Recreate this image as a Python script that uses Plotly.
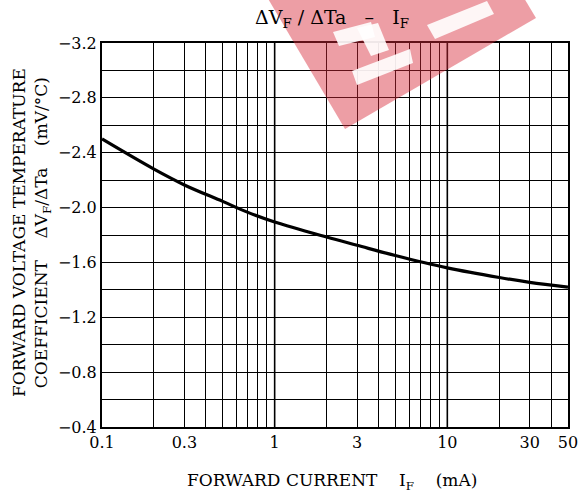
import plotly.graph_objects as go
import math

# ---- data ----
current_ma = [0.1, 0.2, 0.3, 0.5, 0.7, 1, 2, 3, 5, 10, 20, 30, 50]
temp_coef = [-2.50, -2.28, -2.165, -2.045, -1.965, -1.895, -1.785, -1.725, -1.65, -1.56, -1.49, -1.455, -1.42]

x_grid_vals = [0.1, 0.2, 0.3, 0.4, 0.5, 0.6, 0.7, 0.8, 0.9,
               1, 2, 3, 4, 5, 6, 7, 8, 9,
               10, 20, 30, 40, 50]
x_label_vals = [0.1, 0.3, 1, 3, 10, 30, 50]
x_label_text = ["0.1", "0.3", "1", "3", "10", "30", "50"]
y_grid_vals = [-3.2, -3.0, -2.8, -2.6, -2.4, -2.2, -2.0, -1.8, -1.6, -1.4, -1.2, -1.0, -0.8, -0.6, -0.4]
y_label_vals = [-3.2, -2.8, -2.4, -2.0, -1.6, -1.2, -0.8, -0.4]
y_label_text = ["\u2212" + f"{abs(v):.1f}" for v in y_label_vals]

FONT = "DejaVu Serif"

fig = go.Figure()
fig.add_trace(go.Scatter(
    x=current_ma, y=temp_coef, mode="lines",
    line=dict(color="black", width=3.2, shape="spline", smoothing=1.0),
    showlegend=False, hoverinfo="skip"))

W, H = 578, 492
ML, MR, MT, MB = 102, 10, 43, 65
PW, PH = W - ML - MR, H - MT - MB

grid_minor = dict(showgrid=True, gridcolor="black", gridwidth=1, ticks="")

fig.update_layout(
    width=W, height=H,
    margin=dict(l=ML, r=MR, t=MT, b=MB, autoexpand=False),
    paper_bgcolor="white", plot_bgcolor="white",
    font=dict(family=FONT, size=16, color="black"),
    xaxis=dict(type="log", range=[-1, math.log10(50)], automargin=False,
               ticklabeloverflow="allow",
               tickvals=x_label_vals, ticktext=x_label_text, ticks="",
               showgrid=True, gridcolor="black", gridwidth=1,
               minor=dict(tickmode="array", tickvals=x_grid_vals, **grid_minor),
               showline=True, linecolor="black", linewidth=2, mirror=True,
               zeroline=False, tickfont=dict(size=16)),
    yaxis=dict(range=[-0.4, -3.2], automargin=False,
               ticklabeloverflow="allow",
               tickvals=y_label_vals, ticktext=y_label_text, ticks="",
               showgrid=True, gridcolor="black", gridwidth=1,
               minor=dict(tickmode="array", tickvals=y_grid_vals, **grid_minor),
               showline=True, linecolor="black", linewidth=2, mirror=True,
               zeroline=False, tickfont=dict(size=16)),
)

# slightly heavier decade lines
for d in [1, 10]:
    fig.add_shape(type="line", xref="x", yref="paper", x0=d, x1=d, y0=0, y1=1,
                  line=dict(color="black", width=1.6), layer="above")

# titles
fig.add_annotation(text="\u0394V<sub>F</sub> / \u0394Ta   \u2013   I<sub>F</sub>",
                   xref="paper", yref="paper", x=0.5, y=1, xanchor="center", yanchor="middle",
                   xshift=-3, yshift=25, showarrow=False, font=dict(size=19))
fig.add_annotation(text="FORWARD CURRENT    I<sub>F</sub>    (mA)",
                   xref="paper", yref="paper", x=0.5, y=0, xanchor="center", yanchor="middle",
                   xshift=-3, yshift=-54, showarrow=False, font=dict(size=17))
fig.add_annotation(text="FORWARD VOLTAGE TEMPERATURE<br>COEFFICIENT    \u0394V<sub>F</sub>/\u0394Ta    (mV/\u00b0C)",
                   xref="paper", yref="paper", x=0, y=0.5, xanchor="center", yanchor="middle",
                   xshift=-71, yshift=2, textangle=-90, showarrow=False, font=dict(size=17))

# watermark (pixel polygons -> paper coordinates)
def px2paper(px, py):
    return (px - ML) / PW, (H - MB - py) / PH

def poly_path(pts):
    c = [px2paper(*p) for p in pts]
    return "M " + " L ".join(f"{a:.4f},{b:.4f}" for a, b in c) + " Z"

pink = [(345, 129), (536, 18), (421, -174), (231, -64)]
fig.add_shape(type="path", xref="paper", yref="paper", path=poly_path(pink),
              fillcolor="rgb(215,40,55)", opacity=0.45, line=dict(width=0), layer="above")
whites = [
    [(427, 25), (487, 1), (494, 14), (435, 39)],
    [(333, 32), (371, 22), (375, 37), (339, 46)],
    [(357, 28), (378, 23), (389, 50), (371, 56)],
    [(352, 71), (410, 49), (413, 63), (357, 85)],
]
for wp in whites:
    fig.add_shape(type="path", xref="paper", yref="paper", path=poly_path(wp),
                  fillcolor="white", opacity=0.9, line=dict(width=0), layer="above")

fig.write_html("out.html", config={"displayModeBar": False},
               post_script="document.body.style.margin='0px';document.body.style.overflow='hidden';")
